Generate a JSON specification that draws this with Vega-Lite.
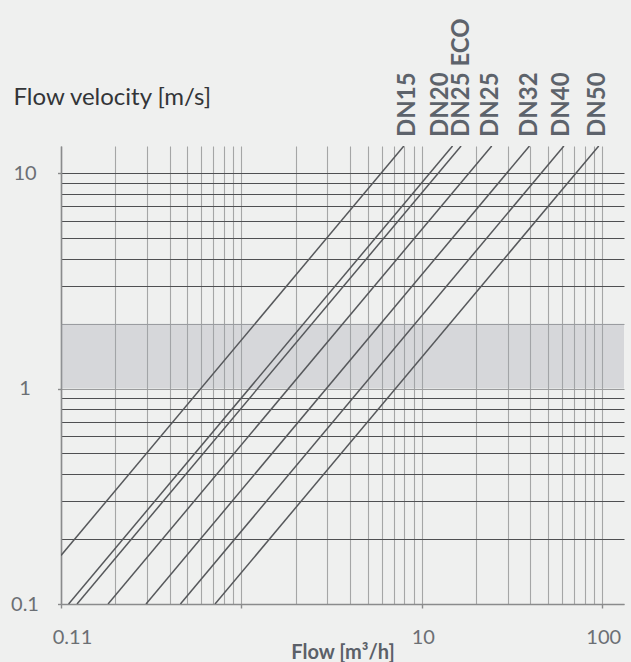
{
  "$schema": "https://vega.github.io/schema/vega-lite/v6.json",
  "width": 563,
  "height": 458,
  "autosize": {"type": "none"},
  "padding": {"left": 61, "top": 146, "right": 7, "bottom": 58},
  "background": "#eff0ef",
  "config": {"view": {"stroke": null}, "font": "Lato"},
  "layer": [
    {
      "data": {"values": [{"from": 1, "to": 2}]},
      "mark": {"type": "rect", "color": "#9a9eaa", "opacity": 0.3},
      "encoding": {
        "y": {
          "field": "from", "type": "quantitative",
          "scale": {"type": "log", "domain": [0.1, 13.35], "nice": false},
          "axis": {
            "values": [0.1, 0.2, 0.3, 0.4, 0.5, 0.6, 0.7, 0.8, 0.9, 1, 2, 3, 4, 5, 6, 7, 8, 9, 10],
            "grid": true,
            "gridColor": {"condition": {"test": "datum.value == 1 || datum.value == 2 || datum.value == 0.1", "value": "#9a9b9c"}, "value": "#4f5052"},
            "gridWidth": 1.2,
            "domainColor": "#8a8b8c", "domainWidth": 1.6,
            "tickColor": "#8a8b8c", "tickSize": 3.5, "tickWidth": 1.4,
            "tickOpacity": {"condition": {"test": "datum.value == 0.1 || datum.value == 1 || datum.value == 10", "value": 1}, "value": 0},
            "labelExpr": "datum.value == 0.1 ? '0.1' : datum.value == 1 ? '1' : datum.value == 10 ? '10' : ''",
            "labelFont": "Lato", "labelFontSize": 20, "labelColor": "#6b6f74",
            "labelAlign": "center", "labelPadding": 33, "labelOverlap": false, "labelFlush": false,
            "title": "Flow velocity [m/s]", "titleAngle": 0, "titleAlign": "left", "titleBaseline": "alphabetic",
            "titleX": -48, "titleY": -42, "titleFont": "Lato", "titleFontWeight": "normal", "titleFontSize": 24,
            "titleColor": "#333538"
          }
        },
        "y2": {"field": "to"}
      }
    },
    {
      "data": {
        "values": [
          {"pipe": "DN15", "flow": 0.1, "velocity": 0.168},
          {"pipe": "DN15", "flow": 7.95, "velocity": 13.35},
          {"pipe": "DN20", "flow": 0.1102, "velocity": 0.1},
          {"pipe": "DN20", "flow": 14.8, "velocity": 13.35},
          {"pipe": "DN25 ECO", "flow": 0.1227, "velocity": 0.1},
          {"pipe": "DN25 ECO", "flow": 16.5, "velocity": 13.35},
          {"pipe": "DN25", "flow": 0.1823, "velocity": 0.1},
          {"pipe": "DN25", "flow": 24.4, "velocity": 13.35},
          {"pipe": "DN32", "flow": 0.296, "velocity": 0.1},
          {"pipe": "DN32", "flow": 39.5, "velocity": 13.35},
          {"pipe": "DN40", "flow": 0.459, "velocity": 0.1},
          {"pipe": "DN40", "flow": 61.3, "velocity": 13.35},
          {"pipe": "DN50", "flow": 0.714, "velocity": 0.1},
          {"pipe": "DN50", "flow": 95.6, "velocity": 13.35}
        ]
      },
      "mark": {"type": "line", "color": "#56585b", "strokeWidth": 1.5, "clip": true},
      "encoding": {
        "x": {
          "field": "flow", "type": "quantitative",
          "scale": {"type": "log", "domain": [0.1, 132], "nice": false},
          "axis": {
            "values": [0.1, 0.2, 0.3, 0.4, 0.5, 0.6, 0.7, 0.8, 0.9, 1, 2, 3, 4, 5, 6, 7, 8, 9, 10, 20, 30, 40, 50, 60, 70, 80, 90, 100],
            "grid": true, "gridColor": "#a5a6a6", "gridWidth": 1.1,
            "domainColor": "#8a8b8c", "domainWidth": 1.6,
            "tickColor": "#8a8b8c", "tickSize": 4, "tickWidth": 1.4,
            "tickOpacity": {"condition": {"test": "datum.value == 0.1 || datum.value == 1 || datum.value == 10 || datum.value == 100", "value": 1}, "value": 0},
            "labelExpr": "datum.value == 0.1 ? '0.11' : datum.value == 10 ? '10' : datum.value == 100 ? '100' : ''",
            "labelFont": "Lato", "labelFontSize": 20, "labelColor": "#6b6f74",
            "labelPadding": 19, "labelOverlap": false, "labelFlush": false,
            "labelOffset": {"condition": {"test": "datum.value == 0.1", "value": 11}, "value": 1},
            "title": "Flow [m³/h]", "titleFont": "Lato", "titleFontWeight": "bold", "titleFontSize": 20,
            "titleColor": "#5b6068", "titleBaseline": "alphabetic", "titleY": 54
          }
        },
        "y": {
          "field": "velocity", "type": "quantitative",
          "scale": {"type": "log", "domain": [0.1, 13.35], "nice": false},
          "axis": {
            "values": [0.1, 0.2, 0.3, 0.4, 0.5, 0.6, 0.7, 0.8, 0.9, 1, 2, 3, 4, 5, 6, 7, 8, 9, 10],
            "grid": true,
            "gridColor": {"condition": {"test": "datum.value == 1 || datum.value == 2 || datum.value == 0.1", "value": "#9a9b9c"}, "value": "#4f5052"},
            "gridWidth": 1.2,
            "domainColor": "#8a8b8c", "domainWidth": 1.6,
            "tickColor": "#8a8b8c", "tickSize": 3.5, "tickWidth": 1.4,
            "tickOpacity": {"condition": {"test": "datum.value == 0.1 || datum.value == 1 || datum.value == 10", "value": 1}, "value": 0},
            "labelExpr": "datum.value == 0.1 ? '0.1' : datum.value == 1 ? '1' : datum.value == 10 ? '10' : ''",
            "labelFont": "Lato", "labelFontSize": 20, "labelColor": "#6b6f74",
            "labelAlign": "center", "labelPadding": 33, "labelOverlap": false, "labelFlush": false,
            "title": "Flow velocity [m/s]", "titleAngle": 0, "titleAlign": "left", "titleBaseline": "alphabetic",
            "titleX": -48, "titleY": -42, "titleFont": "Lato", "titleFontWeight": "normal", "titleFontSize": 24,
            "titleColor": "#333538"
          }
        },
        "detail": {"field": "pipe", "type": "nominal"}
      }
    },
    {
      "data": {
        "values": [
          {"pipe": "DN15", "labelFlow": 8.35},
          {"pipe": "DN20", "labelFlow": 12.83},
          {"pipe": "DN25 ECO", "labelFlow": 16.75},
          {"pipe": "DN25", "labelFlow": 24.12},
          {"pipe": "DN32", "labelFlow": 39.57},
          {"pipe": "DN40", "labelFlow": 59.77},
          {"pipe": "DN50", "labelFlow": 94.9}
        ]
      },
      "mark": {"type": "text", "angle": 270, "align": "left", "baseline": "middle", "dx": 9, "font": "Lato", "fontWeight": "bold", "fontSize": 24, "color": "#5d636b"},
      "encoding": {
        "x": {
          "field": "labelFlow", "type": "quantitative",
          "scale": {"type": "log", "domain": [0.1, 132], "nice": false},
          "axis": {
            "values": [0.1, 0.2, 0.3, 0.4, 0.5, 0.6, 0.7, 0.8, 0.9, 1, 2, 3, 4, 5, 6, 7, 8, 9, 10, 20, 30, 40, 50, 60, 70, 80, 90, 100],
            "grid": true, "gridColor": "#a5a6a6", "gridWidth": 1.1,
            "domainColor": "#8a8b8c", "domainWidth": 1.6,
            "tickColor": "#8a8b8c", "tickSize": 4, "tickWidth": 1.4,
            "tickOpacity": {"condition": {"test": "datum.value == 0.1 || datum.value == 1 || datum.value == 10 || datum.value == 100", "value": 1}, "value": 0},
            "labelExpr": "datum.value == 0.1 ? '0.11' : datum.value == 10 ? '10' : datum.value == 100 ? '100' : ''",
            "labelFont": "Lato", "labelFontSize": 20, "labelColor": "#6b6f74",
            "labelPadding": 19, "labelOverlap": false, "labelFlush": false,
            "labelOffset": {"condition": {"test": "datum.value == 0.1", "value": 11}, "value": 1},
            "title": "Flow [m³/h]", "titleFont": "Lato", "titleFontWeight": "bold", "titleFontSize": 20,
            "titleColor": "#5b6068", "titleBaseline": "alphabetic", "titleY": 54
          }
        },
        "y": {
          "datum": 13.35, "type": "quantitative",
          "scale": {"type": "log", "domain": [0.1, 13.35], "nice": false},
          "axis": {
            "values": [0.1, 0.2, 0.3, 0.4, 0.5, 0.6, 0.7, 0.8, 0.9, 1, 2, 3, 4, 5, 6, 7, 8, 9, 10],
            "grid": true,
            "gridColor": {"condition": {"test": "datum.value == 1 || datum.value == 2 || datum.value == 0.1", "value": "#9a9b9c"}, "value": "#4f5052"},
            "gridWidth": 1.2,
            "domainColor": "#8a8b8c", "domainWidth": 1.6,
            "tickColor": "#8a8b8c", "tickSize": 3.5, "tickWidth": 1.4,
            "tickOpacity": {"condition": {"test": "datum.value == 0.1 || datum.value == 1 || datum.value == 10", "value": 1}, "value": 0},
            "labelExpr": "datum.value == 0.1 ? '0.1' : datum.value == 1 ? '1' : datum.value == 10 ? '10' : ''",
            "labelFont": "Lato", "labelFontSize": 20, "labelColor": "#6b6f74",
            "labelAlign": "center", "labelPadding": 33, "labelOverlap": false, "labelFlush": false,
            "title": "Flow velocity [m/s]", "titleAngle": 0, "titleAlign": "left", "titleBaseline": "alphabetic",
            "titleX": -48, "titleY": -42, "titleFont": "Lato", "titleFontWeight": "normal", "titleFontSize": 24,
            "titleColor": "#333538"
          }
        },
        "text": {"field": "pipe", "type": "nominal"}
      }
    }
  ]
}
